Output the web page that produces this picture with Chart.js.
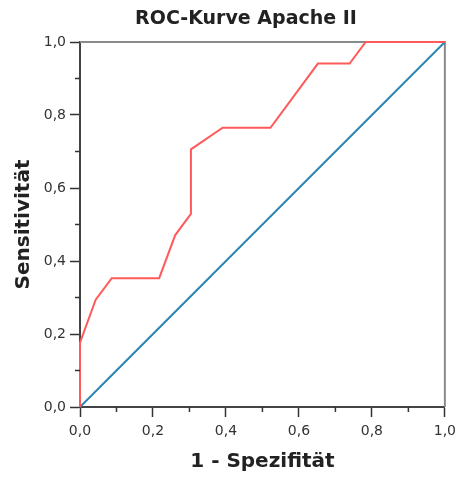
<!DOCTYPE html>
<html>
<head>
<meta charset="utf-8">
<script src="https://cdn.jsdelivr.net/npm/chart.js@4"></script>
<style>
  html, body { margin: 0; padding: 0; background: #fff; }
  #wrap { width: 462px; height: 477px; }
</style>
</head>
<body>
<div id="wrap"><canvas id="rocChart"></canvas></div>
<script>
// ROC curve (1 - Spezifität vs Sensitivität)
const fprValues = [0, 0, 0.043, 0.087, 0.217, 0.261, 0.304, 0.304, 0.391, 0.522, 0.652, 0.739, 0.783, 1.0];
const sensValues = [0, 0.176, 0.294, 0.353, 0.353, 0.471, 0.529, 0.706, 0.765, 0.765, 0.941, 0.941, 1.0, 1.0];
const refX = [0, 1];
const refY = [0, 1];
const minorTicks = [0.1, 0.3, 0.5, 0.7, 0.9];

const FONT = "'DejaVu Sans', Verdana, sans-serif";

function toPoints(xs, ys) {
  return xs.map((x, i) => ({ x: x, y: ys[i] }));
}

function fmt(v) {
  return v.toFixed(1).replace(".", ",");
}

// top/right frame, minor ticks and the title
const framePlugin = {
  id: "frame",
  beforeDatasetsDraw(chart) {
    const { ctx, chartArea: a } = chart;
    ctx.save();
    ctx.strokeStyle = "#8a8a8a";
    ctx.lineWidth = 2;
    ctx.beginPath();
    ctx.moveTo(a.left, a.top);
    ctx.lineTo(a.right, a.top);
    ctx.lineTo(a.right, a.bottom);
    ctx.stroke();
    ctx.restore();
  },
  afterDraw(chart) {
    const { ctx, chartArea: a, scales } = chart;
    ctx.save();
    ctx.strokeStyle = "#333";
    ctx.lineWidth = 1.5;
    minorTicks.forEach((v) => {
      const px = scales.x.getPixelForValue(v);
      ctx.beginPath();
      ctx.moveTo(px, a.bottom);
      ctx.lineTo(px, a.bottom + 5);
      ctx.stroke();
      const py = scales.y.getPixelForValue(v);
      ctx.beginPath();
      ctx.moveTo(a.left, py);
      ctx.lineTo(a.left - 5, py);
      ctx.stroke();
    });
    ctx.fillStyle = "#222";
    ctx.font = "bold 19px " + FONT;
    ctx.textAlign = "center";
    ctx.textBaseline = "middle";
    ctx.fillText("ROC-Kurve Apache II", chart.width / 2 + 15, 19);
    ctx.restore();
  }
};

const axisCommon = {
  type: "linear",
  min: 0,
  max: 1,
  border: { color: "#444", width: 2 },
  grid: { drawOnChartArea: false, tickLength: 10, tickColor: "#333", tickWidth: 1.5 },
  ticks: { stepSize: 0.2, color: "#333", font: { family: FONT, size: 14 }, callback: fmt }
};

new Chart(document.getElementById("rocChart"), {
  type: "scatter",
  data: {
    datasets: [
      {
        label: "Apache II",
        data: toPoints(fprValues, sensValues),
        showLine: true,
        borderColor: "#ff5a5a",
        borderWidth: 2,
        pointRadius: 0,
        tension: 0,
        clip: 4
      },
      {
        label: "Bezugslinie",
        data: toPoints(refX, refY),
        showLine: true,
        borderColor: "#2b84b4",
        borderWidth: 2,
        pointRadius: 0,
        clip: 4
      }
    ]
  },
  options: {
    responsive: true,
    maintainAspectRatio: false,
    animation: false,
    layout: { padding: { top: 42, right: 16, left: 0, bottom: 0 } },
    plugins: {
      legend: { display: false },
      tooltip: { enabled: false }
    },
    scales: {
      x: {
        ...axisCommon,
        ticks: { ...axisCommon.ticks, padding: 6, maxRotation: 0 },
        title: {
          display: true,
          text: "1 - Spezifität",
          color: "#222",
          font: { family: FONT, size: 20, weight: "bold" },
          padding: { top: 0, bottom: 3 }
        },
        afterFit(s) { s.height = 70; }
      },
      y: {
        ...axisCommon,
        ticks: { ...axisCommon.ticks, padding: 4 },
        title: {
          display: true,
          text: "Sensitivität",
          color: "#222",
          font: { family: FONT, size: 20, weight: "bold" },
          padding: { top: 12, bottom: 0 }
        },
        afterFit(s) { s.width = 80; }
      }
    }
  },
  plugins: [framePlugin]
});
</script>
</body>
</html>
